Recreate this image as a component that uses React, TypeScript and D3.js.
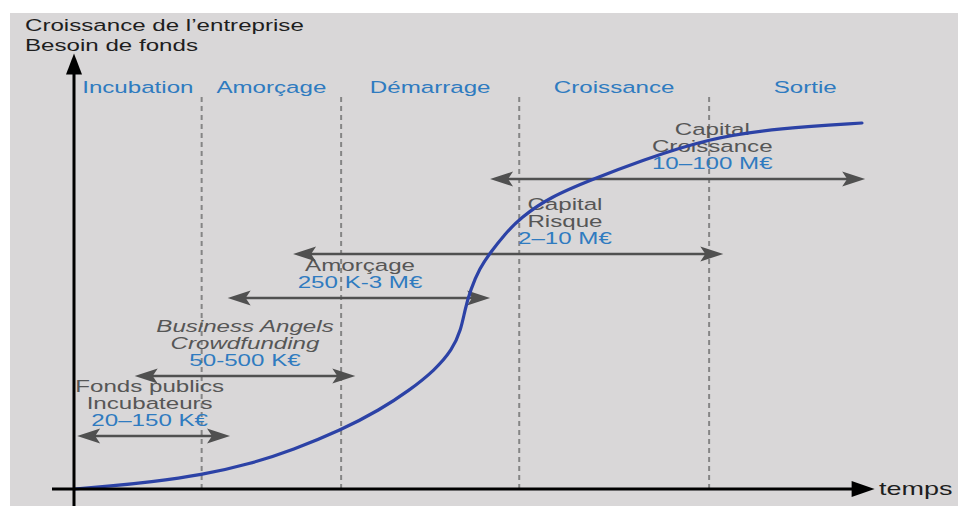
import React from "react";
import * as d3 from "d3";

// ---- Data ----
const phaseNames = ["Incubation", "Amorçage", "Démarrage", "Croissance", "Sortie"];
const phaseBounds = [0, 16.2, 33.9, 56.5, 80.6, 105];
const dividers = [16.2, 33.9, 56.5, 80.6];

const curveT = [0, 4.6, 9.6, 16.2, 22.3, 27.8, 33.9, 38.8, 42.6, 45.8, 48.0, 49.1, 49.6, 50.3, 51.5, 52.8, 54.7, 56.6, 60.4, 65.9, 71.8, 80.6, 89.6, 100];
const curveV = [0, 0.8, 1.9, 3.8, 6.8, 10.7, 16.1, 21.6, 27.0, 32.5, 38.0, 43.4, 48.9, 54.4, 60.4, 64.5, 69.7, 74.0, 79.8, 84.7, 89.6, 95.9, 98.6, 100];

const fundLines = [
  ["Fonds publics", "Incubateurs"],
  ["Business Angels", "Crowdfunding"],
  ["Amorçage"],
  ["Capital", "Risque"],
  ["Capital", "Croissance"],
];
const fundAmounts = ["20–150 K€", "50-500 K€", "250 K-3 M€", "2–10 M€", "10–100 M€"];
const fundStart = [0.4, 7.7, 19.5, 27.8, 52.8];
const fundEnd = [19.8, 35.7, 52.8, 82.4, 100.4];
const fundLevel = [14.5, 30.9, 52.2, 64.2, 84.7];
const fundLabelX = [9.6, 21.7, 36.3, 62.3, 81];
const fundItalic = [false, true, false, false, false];

const titleLines = ["Croissance de l’entreprise", "Besoin de fonds"];
const xAxisLabel = "temps";

// ---- Layout ----
const W = 958;
const H = 506;
const SX = 1.42;
const FONT = "'Liberation Sans', Arial, sans-serif";
const BLUE = "#2f7bc0";
const GREY_TXT = "#565656";
const ARROW = "#505050";

const x = d3.scaleLinear().domain([0, 100]).range([74, 862]);
const y = d3.scaleLinear().domain([0, 100]).range([489, 123]);

function ST({ x: tx, y: ty, children, anchor = "middle", fill = "#222", size = 17, italic = false }: any) {
  return (
    <text
      transform={`translate(${tx},${ty}) scale(${SX},1)`}
      textAnchor={anchor}
      fill={fill}
      fontSize={size}
      fontFamily={FONT}
      fontStyle={italic ? "italic" : "normal"}
    >
      {children}
    </text>
  );
}

function head(tx: number, ty: number, dir: number, len = 23, hw = 7.5, notch = 5) {
  const b = tx - dir * len;
  const n = tx - dir * (len - notch);
  return `M${tx},${ty} L${b},${ty - hw} L${n},${ty} L${b},${ty + hw} Z`;
}

export default function App() {
  const line = d3
    .line<number>()
    .x((_, i) => x(curveT[i]))
    .y((_, i) => y(curveV[i]))
    .curve(d3.curveBasis);
  const pathD = line(curveT) || "";

  const y0 = y(0);
  const axisX = x(0);
  const xEnd = x(101.6);
  const yTop = y(119);

  return (
    <svg width={W} height={H} style={{ position: "absolute", left: 0, top: 0, background: "#fff" }}>
      <rect x={10} y={13} width={W - 10} height={H - 13} fill="#d9d7d8" />

      {titleLines.map((t, i) => (
        <ST key={i} x={25} y={31 + i * 19.5} anchor="start" fill="#1e1e1e">
          {t}
        </ST>
      ))}

      {dividers.map((d, i) => (
        <line
          key={i}
          x1={x(d)}
          x2={x(d)}
          y1={97}
          y2={y0}
          stroke="#858585"
          strokeWidth={2}
          strokeDasharray="5,4"
        />
      ))}

      {phaseNames.map((p, i) => (
        <ST key={p} x={x((phaseBounds[i] + phaseBounds[i + 1]) / 2)} y={93} fill={BLUE}>
          {p}
        </ST>
      ))}

      {fundAmounts.map((amt, i) => {
        const x1 = x(fundStart[i]);
        const x2 = x(fundEnd[i]);
        const yy = y(fundLevel[i]);
        const cx = x(fundLabelX[i]);
        const lines = fundLines[i];
        return (
          <g key={i}>
            <line x1={x1 + 10} x2={x2 - 10} y1={yy} y2={yy} stroke={ARROW} strokeWidth={2.5} />
            <path d={head(x1, yy, -1)} fill={ARROW} />
            <path d={head(x2, yy, 1)} fill={ARROW} />
            {lines.map((l, j) => (
              <ST
                key={j}
                x={cx}
                y={yy - 10 - (lines.length - j) * 17}
                fill={GREY_TXT}
                italic={fundItalic[i]}
              >
                {l}
              </ST>
            ))}
            <ST x={cx} y={yy - 10} fill={BLUE}>
              {amt}
            </ST>
          </g>
        );
      })}

      <path d={pathD} fill="none" stroke="#2c42a6" strokeWidth={3.2} strokeLinecap="round" />

      <line x1={axisX} x2={axisX} y1={H} y2={yTop + 18} stroke="#000" strokeWidth={3} />
      <path d={`M${axisX},${yTop} L${axisX - 8},${yTop + 21} L${axisX + 8},${yTop + 21} Z`} fill="#000" />
      <line x1={52} x2={xEnd - 18} y1={y0} y2={y0} stroke="#000" strokeWidth={3} />
      <path d={`M${xEnd},${y0} L${xEnd - 23},${y0 - 8} L${xEnd - 23},${y0 + 8} Z`} fill="#000" />
      <ST x={879} y={495} anchor="start" fill="#1e1e1e" size={19}>
        {xAxisLabel}
      </ST>
    </svg>
  );
}
